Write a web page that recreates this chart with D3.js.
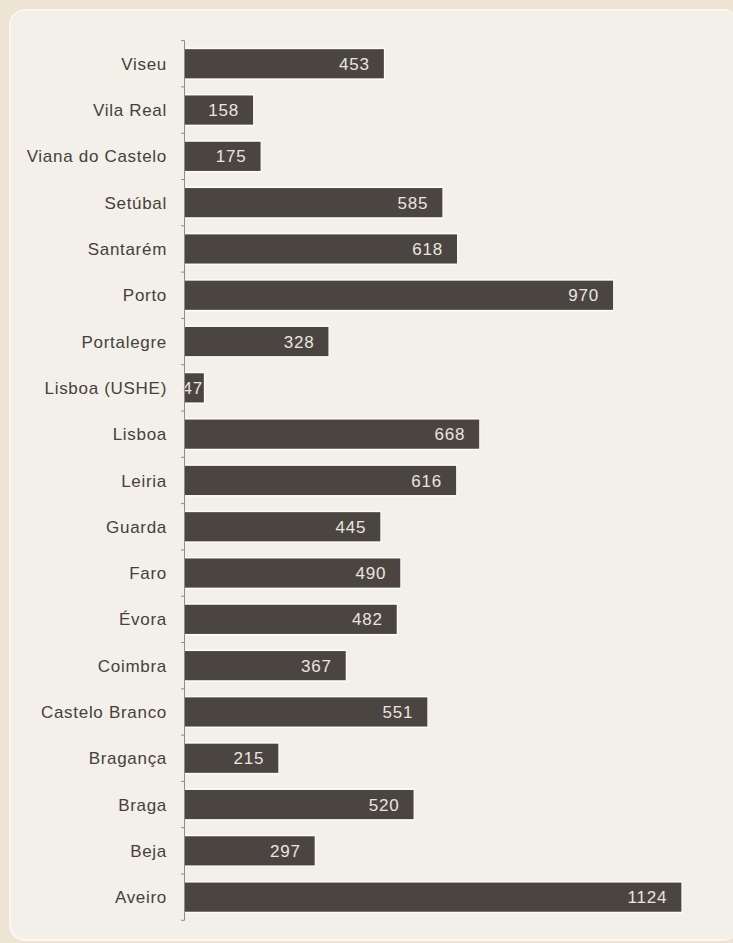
<!DOCTYPE html>
<html>
<head>
<meta charset="utf-8">
<script src="https://cdn.jsdelivr.net/npm/d3@7"></script>
<style>
  html, body { margin: 0; padding: 0; background: #ede4d4; }
  svg { display: block; }
</style>
</head>
<body>
<svg id="chart" width="733" height="943"></svg>
<script>
// Districts, top to bottom
const categories = [
  "Viseu", "Vila Real", "Viana do Castelo", "Setúbal", "Santarém", "Porto",
  "Portalegre", "Lisboa (USHE)", "Lisboa", "Leiria", "Guarda", "Faro",
  "Évora", "Coimbra", "Castelo Branco", "Bragança", "Braga", "Beja", "Aveiro"
];
const values = [
  453, 158, 175, 585, 618, 970,
  328, 47, 668, 616, 445, 490,
  482, 367, 551, 215, 520, 297, 1124
];

const data = categories.map((c, i) => ({ name: c, value: values[i] }));

const svg = d3.select("#chart");

// page background and rounded panel
svg.append("rect").attr("width", 733).attr("height", 943).attr("fill", "#ede4d4");
svg.append("rect")
  .attr("x", 9).attr("y", 9).attr("width", 730).attr("height", 932)
  .attr("rx", 16).attr("fill", "#faf8f1");
svg.append("rect")
  .attr("x", 11).attr("y", 11).attr("width", 728).attr("height", 928)
  .attr("rx", 14).attr("fill", "#f3f0e9");

const x = d3.scaleLinear().domain([0, 1200]).range([183, 183 + 1200 * 0.4434]);
const y = d3.scaleBand()
  .domain(categories)
  .range([40.6, 920.3])
  .paddingInner(0.37)
  .paddingOuter(0.185);

const barColor = "#4a4541";
const gap = y.step() * y.paddingInner() / 2;
const font = "Liberation Sans, Arial, sans-serif";

const bars = svg.append("g");
// soft light edge around each bar
bars.selectAll("rect.halo")
  .data(data)
  .join("rect")
  .attr("class", "halo")
  .attr("x", x(0) + 1)
  .attr("y", d => y(d.name) - 1.5)
  .attr("width", d => x(d.value) - x(0))
  .attr("height", y.bandwidth() + 3)
  .attr("fill", "#fdfcf8");
bars.selectAll("rect.bar")
  .data(data)
  .join("rect")
  .attr("class", "bar")
  .attr("x", x(0) + 2)
  .attr("y", d => y(d.name))
  .attr("width", d => x(d.value) - x(0) - 2)
  .attr("height", y.bandwidth())
  .attr("fill", barColor);

// value labels inside the bar ends
bars.selectAll("text.val")
  .data(data)
  .join("text")
  .attr("class", "val")
  .attr("x", d => Math.max(x(d.value) - 14, x(0) + 20))
  .attr("y", d => y(d.name) + y.bandwidth() / 2)
  .attr("dy", "0.36em")
  .attr("text-anchor", "end")
  .attr("font-family", font)
  .attr("font-size", 17)
  .attr("letter-spacing", "0.8px")
  .attr("fill", "#e9e6df")
  .text(d => d.value);

// vertical axis with ticks on the band boundaries
const axis = svg.append("g").attr("stroke", "#8f8b85").attr("stroke-width", 1);
axis.append("line")
  .attr("x1", 184.5).attr("x2", 184.5)
  .attr("y1", y.range()[0]).attr("y2", y.range()[1]);
const boundaries = categories.map(c => y(c) - gap).concat([y(categories[categories.length - 1]) + y.bandwidth() + gap]);
axis.selectAll("line.tick")
  .data(boundaries)
  .join("line")
  .attr("class", "tick")
  .attr("x1", 181).attr("x2", 184.5)
  .attr("y1", d => d).attr("y2", d => d);

// category labels
svg.append("g").selectAll("text")
  .data(data)
  .join("text")
  .attr("x", 167)
  .attr("y", d => y(d.name) + y.bandwidth() / 2)
  .attr("dy", "0.36em")
  .attr("text-anchor", "end")
  .attr("font-family", font)
  .attr("font-size", 17)
  .attr("letter-spacing", "0.7px")
  .attr("fill", "#44413d")
  .text(d => d.name);
</script>
</body>
</html>
